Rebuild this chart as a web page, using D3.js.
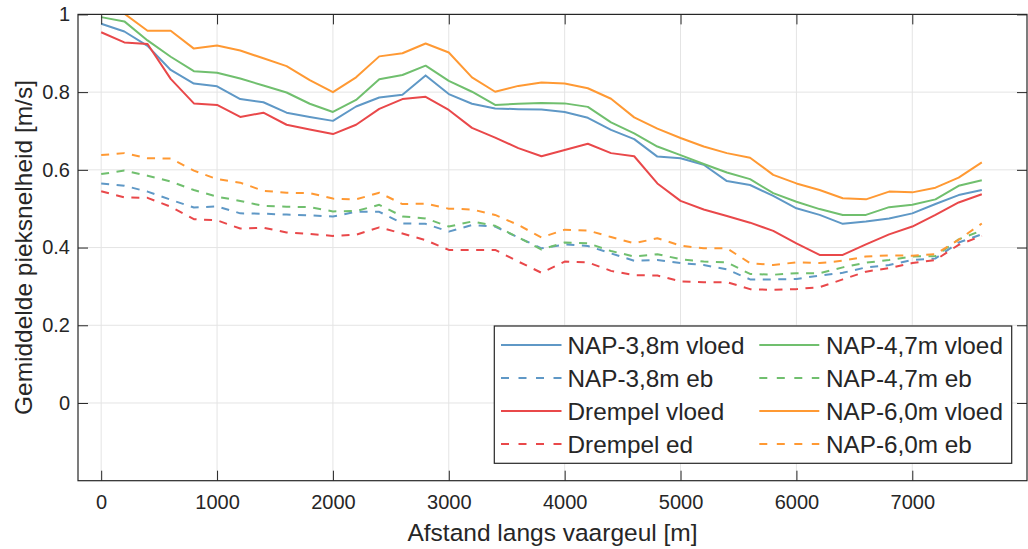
<!DOCTYPE html>
<html>
<head>
<meta charset="utf-8">
<script src="https://cdn.jsdelivr.net/npm/d3@7"></script>
<style>
  html, body { margin: 0; padding: 0; background: #fff; }
  svg { display: block; font-family: "Liberation Sans", Arial, Helvetica, sans-serif; }
</style>
</head>
<body>
<svg id="chart" width="1028" height="549"></svg>
<script>
// Distance along the fairway [m]
const distance = [0, 200, 400, 600, 800, 1000, 1200, 1400, 1600, 1800, 2000, 2200, 2400, 2600, 2800, 3000, 3200, 3400, 3600, 3800,
  4000, 4200, 4400, 4600, 4800, 5000, 5200, 5400, 5600, 5800, 6000, 6200, 6400, 6600, 6800, 7000, 7200, 7400, 7600];

// Mean peak velocity [m/s]
const nap38Vloed = [0.976, 0.956, 0.919, 0.857, 0.822, 0.815, 0.782, 0.774, 0.747, 0.736, 0.726, 0.763, 0.786, 0.793, 0.843, 0.795, 0.770, 0.758, 0.756, 0.755,
  0.749, 0.734, 0.703, 0.679, 0.634, 0.630, 0.613, 0.571, 0.561, 0.533, 0.501, 0.484, 0.461, 0.467, 0.475, 0.488, 0.512, 0.535, 0.548];
const nap38Eb = [0.565, 0.559, 0.544, 0.523, 0.503, 0.506, 0.488, 0.487, 0.485, 0.483, 0.480, 0.492, 0.492, 0.462, 0.461, 0.441, 0.458, 0.454, 0.426, 0.398,
  0.408, 0.404, 0.385, 0.366, 0.368, 0.360, 0.355, 0.344, 0.318, 0.318, 0.319, 0.328, 0.335, 0.349, 0.355, 0.368, 0.372, 0.413, 0.434];
const drempelVloed = [0.954, 0.928, 0.924, 0.834, 0.771, 0.767, 0.736, 0.747, 0.716, 0.704, 0.692, 0.716, 0.757, 0.782, 0.788, 0.754, 0.708, 0.683, 0.656, 0.635,
  0.651, 0.667, 0.643, 0.635, 0.565, 0.520, 0.498, 0.481, 0.464, 0.443, 0.411, 0.381, 0.381, 0.408, 0.434, 0.454, 0.484, 0.516, 0.537];
const drempelEb = [0.545, 0.529, 0.528, 0.505, 0.473, 0.470, 0.449, 0.451, 0.439, 0.435, 0.430, 0.433, 0.452, 0.436, 0.419, 0.394, 0.394, 0.394, 0.364, 0.335,
  0.364, 0.362, 0.340, 0.329, 0.328, 0.313, 0.311, 0.311, 0.293, 0.291, 0.293, 0.298, 0.318, 0.338, 0.347, 0.360, 0.368, 0.407, 0.430];
const nap47Vloed = [0.993, 0.982, 0.933, 0.891, 0.854, 0.850, 0.835, 0.817, 0.799, 0.770, 0.749, 0.780, 0.833, 0.844, 0.868, 0.829, 0.801, 0.767, 0.770, 0.772,
  0.771, 0.762, 0.722, 0.694, 0.660, 0.638, 0.615, 0.593, 0.576, 0.540, 0.518, 0.499, 0.484, 0.484, 0.504, 0.510, 0.524, 0.559, 0.573];
const nap47Eb = [0.589, 0.598, 0.585, 0.570, 0.548, 0.531, 0.520, 0.507, 0.505, 0.504, 0.493, 0.494, 0.510, 0.480, 0.475, 0.454, 0.467, 0.456, 0.426, 0.395,
  0.413, 0.411, 0.391, 0.377, 0.383, 0.370, 0.364, 0.362, 0.332, 0.330, 0.334, 0.334, 0.349, 0.361, 0.368, 0.377, 0.378, 0.421, 0.444];
const nap60Vloed = [1.040, 1.002, 0.958, 0.958, 0.912, 0.920, 0.907, 0.887, 0.867, 0.831, 0.800, 0.838, 0.892, 0.900, 0.925, 0.902, 0.838, 0.801, 0.816, 0.825,
  0.822, 0.810, 0.783, 0.735, 0.706, 0.682, 0.660, 0.643, 0.631, 0.587, 0.565, 0.548, 0.527, 0.524, 0.544, 0.542, 0.554, 0.580, 0.619];
const nap60Eb = [0.638, 0.643, 0.630, 0.629, 0.598, 0.576, 0.567, 0.546, 0.541, 0.540, 0.526, 0.524, 0.541, 0.512, 0.513, 0.500, 0.498, 0.484, 0.458, 0.426,
  0.446, 0.444, 0.427, 0.411, 0.424, 0.405, 0.398, 0.398, 0.360, 0.355, 0.362, 0.360, 0.366, 0.377, 0.380, 0.379, 0.383, 0.420, 0.462];

// Series names, in drawing / legend order
const seriesNames = ["NAP-3,8m vloed", "NAP-3,8m eb", "Drempel vloed", "Drempel ed",
  "NAP-4,7m vloed", "NAP-4,7m eb", "NAP-6,0m vloed", "NAP-6,0m eb"];
const seriesValues = [nap38Vloed, nap38Eb, drempelVloed, drempelEb, nap47Vloed, nap47Eb, nap60Vloed, nap60Eb];

// Tick labels
const xTicks = [0, 1000, 2000, 3000, 4000, 5000, 6000, 7000];
const yTicks = [0, 0.2, 0.4, 0.6, 0.8, 1];
const xLabel = "Afstand langs vaargeul [m]";
const yLabel = "Gemiddelde pieksnelheid [m/s]";

// Styling
const colors = { blue: "#5f98c6", red: "#e9484a", green: "#70bf6e", orange: "#ff9933" };
const seriesStyle = [
  { color: colors.blue, dashed: false }, { color: colors.blue, dashed: true },
  { color: colors.red, dashed: false }, { color: colors.red, dashed: true },
  { color: colors.green, dashed: false }, { color: colors.green, dashed: true },
  { color: colors.orange, dashed: false }, { color: colors.orange, dashed: true }
];
const ink = "#262626";

const svg = d3.select("#chart");
const plot = { left: 78, right: 1027, top: 14.4, bottom: 480.7 };

const x = d3.scaleLinear().domain([-200, 7990]).range([plot.left, plot.right]);
const y = d3.scaleLinear().domain([-0.2, 1]).range([plot.bottom, plot.top]);

svg.append("defs").append("clipPath").attr("id", "plot-clip")
  .append("rect")
  .attr("x", plot.left).attr("y", plot.top)
  .attr("width", plot.right - plot.left).attr("height", plot.bottom - plot.top);

// Grid
const grid = svg.append("g").attr("class", "grid");
grid.selectAll("line.vx").data(xTicks).join("line")
  .attr("x1", d => x(d)).attr("x2", d => x(d))
  .attr("y1", plot.top).attr("y2", plot.bottom)
  .attr("stroke", "#e4e4e4").attr("stroke-width", 1);
grid.selectAll("line.hy").data(yTicks).join("line")
  .attr("x1", plot.left).attr("x2", plot.right)
  .attr("y1", d => y(d)).attr("y2", d => y(d))
  .attr("stroke", "#e4e4e4").attr("stroke-width", 1);

// Data lines
const line = d3.line().x((d, i) => x(distance[i])).y(d => y(d));
const lines = svg.append("g").attr("clip-path", "url(#plot-clip)");
seriesValues.forEach((vals, k) => {
  lines.append("path")
    .datum(vals)
    .attr("d", line)
    .attr("fill", "none")
    .attr("stroke", seriesStyle[k].color)
    .attr("stroke-width", 2)
    .attr("stroke-linejoin", "round")
    .attr("stroke-dasharray", seriesStyle[k].dashed ? "8,7.5" : null);
});

// Axes (ticks pointing inwards, box on all four sides)
const tickLen = 10;
const bottomAxis = d3.axisBottom(x).tickValues(xTicks).tickSize(-tickLen).tickPadding(14).tickFormat(d3.format("d"));
const leftAxis = d3.axisLeft(y).tickValues(yTicks).tickSize(-tickLen).tickPadding(8).tickFormat(d => d === 0 || d === 1 ? String(d) : d3.format(".1f")(d));
const topAxis = d3.axisTop(x).tickValues(xTicks).tickSize(-tickLen).tickFormat("");
const rightAxis = d3.axisRight(y).tickValues(yTicks).tickSize(-tickLen).tickFormat("");

function styleAxis(g) {
  g.select(".domain").remove();
  g.selectAll(".tick line").attr("stroke", ink).attr("stroke-width", 1);
  g.selectAll(".tick text").attr("fill", ink).attr("font-size", 20).attr("font-family", null);
}

svg.append("g").attr("transform", `translate(0,${plot.bottom})`).call(bottomAxis).call(styleAxis)
  .selectAll(".tick text").attr("dy", "0.71em").attr("y", 14);
svg.append("g").attr("transform", `translate(${plot.left},0)`).call(leftAxis).call(styleAxis);
svg.append("g").attr("transform", `translate(0,${plot.top})`).call(topAxis).call(styleAxis);
svg.append("g").attr("transform", `translate(${plot.right},0)`).call(rightAxis).call(styleAxis);

// Box
svg.append("rect")
  .attr("x", plot.left).attr("y", plot.top)
  .attr("width", plot.right - plot.left).attr("height", plot.bottom - plot.top)
  .attr("fill", "none").attr("stroke", ink).attr("stroke-width", 1.2);

// Axis labels
svg.append("text")
  .attr("x", (plot.left + plot.right) / 2).attr("y", 541)
  .attr("text-anchor", "middle").attr("font-size", 24.5).attr("fill", ink)
  .text(xLabel);
svg.append("text")
  .attr("transform", `translate(31.5,${(plot.top + plot.bottom) / 2}) rotate(-90)`)
  .attr("text-anchor", "middle").attr("font-size", 24.5).attr("fill", ink)
  .text(yLabel);

// Legend (two columns, filled column by column)
const legend = svg.append("g");
const lg = { x0: 494.3, y0: 326, x1: 1011.7, y1: 463.3 };
legend.append("rect")
  .attr("x", lg.x0).attr("y", lg.y0).attr("width", lg.x1 - lg.x0).attr("height", lg.y1 - lg.y0)
  .attr("fill", "#fff").attr("stroke", ink).attr("stroke-width", 1.2);
const colX = [{ l0: 501, l1: 561.5, t: 567.5 }, { l0: 759.3, l1: 819.3, t: 826 }];
const rowY = [345, 378, 411, 444];
seriesNames.forEach((name, k) => {
  const c = colX[Math.floor(k / 4)];
  const ry = rowY[k % 4];
  legend.append("line")
    .attr("x1", c.l0).attr("x2", c.l1).attr("y1", ry).attr("y2", ry)
    .attr("stroke", seriesStyle[k].color).attr("stroke-width", 2)
    .attr("stroke-dasharray", seriesStyle[k].dashed ? "8,9.5" : null);
  legend.append("text")
    .attr("x", c.t).attr("y", ry + 9)
    .attr("font-size", 24.3).attr("fill", ink)
    .text(name);
});
</script>
</body>
</html>
